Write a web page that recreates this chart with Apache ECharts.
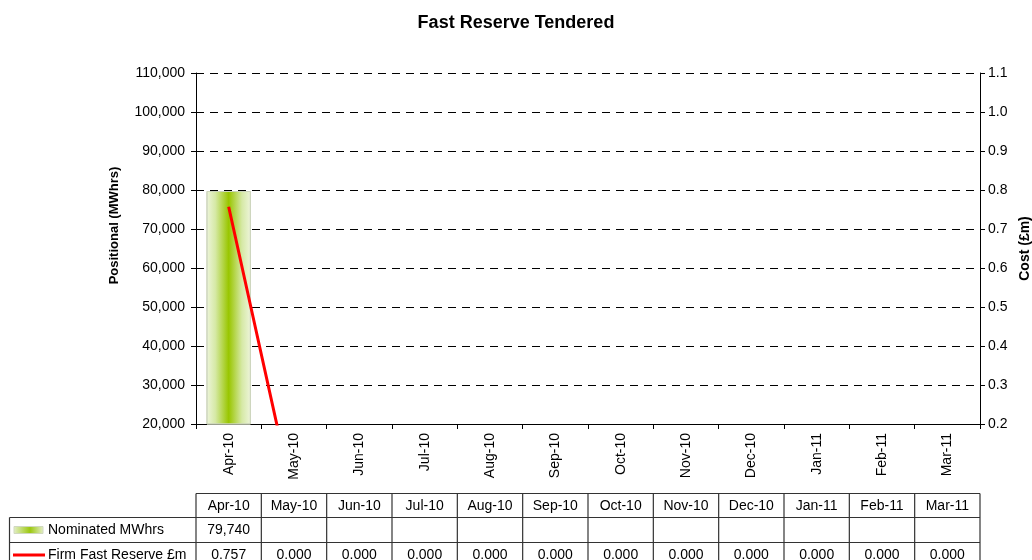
<!DOCTYPE html>
<html>
<head>
<meta charset="utf-8">
<title>Fast Reserve Tendered</title>
<script src="https://cdn.jsdelivr.net/npm/echarts@6/dist/echarts.min.js"></script>
<style>
  html, body { margin: 0; padding: 0; background: #fff; }
  #chart { width: 1032px; height: 560px; }
</style>
</head>
<body>
<div id="chart"></div>
<script>
// chart data
const months = ['Apr-10', 'May-10', 'Jun-10', 'Jul-10', 'Aug-10', 'Sep-10', 'Oct-10', 'Nov-10', 'Dec-10', 'Jan-11', 'Feb-11', 'Mar-11'];
const nominatedMWhrs = [79740, null, null, null, null, null, null, null, null, null, null, null];
const firmFastReserve = [0.757, 0, 0, 0, 0, 0, 0, 0, 0, 0, 0, 0];
const seriesNames = ['Nominated MWhrs', 'Firm Fast Reserve £m'];

const FONT = 'Arial, "Liberation Sans", sans-serif';
const myChart = echarts.init(document.getElementById('chart'));

const barFill = new echarts.graphic.LinearGradient(0, 0, 1, 0, [
    { offset: 0, color: '#eef5dc' },
    { offset: 0.2, color: '#d6e9a6' },
    { offset: 0.5, color: '#99c600' },
    { offset: 0.8, color: '#d6e9a6' },
    { offset: 1, color: '#eef5dc' }
]);

function option() {
    return {
        animation: false,
        backgroundColor: '#fff',
        textStyle: { fontFamily: FONT },
        title: {
            text: 'Fast Reserve Tendered',
            left: 'center',
            top: 9,
            textStyle: { fontSize: 18, fontWeight: 'bold', color: '#000', fontFamily: FONT }
        },
        grid: { left: 196, right: 52, top: 73, bottom: 136, containLabel: false, outerBoundsMode: 'none' },
        xAxis: {
            type: 'category',
            data: months,
            boundaryGap: true,
            axisLine: { lineStyle: { color: '#000', width: 1 } },
            axisTick: { show: true, length: 5, lineStyle: { color: '#000' } },
            axisLabel: { rotate: 90, color: '#000', fontSize: 14, margin: 9, fontFamily: FONT },
            splitLine: { show: false }
        },
        yAxis: [{
            type: 'value',
            name: 'Positional (MWhrs)',
            nameLocation: 'middle',
            nameGap: 75,
            nameRotate: 90,
            nameTextStyle: { fontWeight: 'bold', fontSize: 13, color: '#000', fontFamily: FONT, padding: [0, 0, 0, 46] },
            min: 20000,
            max: 110000,
            interval: 10000,
            axisLine: { show: true, lineStyle: { color: '#000' } },
            axisTick: { show: true, length: 5, lineStyle: { color: '#000' } },
            axisLabel: {
                color: '#000', fontSize: 14, margin: 11, fontFamily: FONT,
                formatter: v => v.toLocaleString('en-US')
            },
            splitLine: { show: true, lineStyle: { color: '#000', type: [8, 6], width: 1 } }
        }, {
            type: 'value',
            name: 'Cost (£m)',
            nameLocation: 'middle',
            nameGap: 36,
            nameRotate: 90,
            nameTextStyle: { fontWeight: 'bold', fontSize: 14, color: '#000', fontFamily: FONT },
            min: 0.2,
            max: 1.1,
            interval: 0.1,
            position: 'right',
            axisLine: { show: true, lineStyle: { color: '#000' } },
            axisTick: { show: true, length: 5, lineStyle: { color: '#000' } },
            axisLabel: {
                color: '#000', fontSize: 14, margin: 8, fontFamily: FONT,
                formatter: v => v.toFixed(1)
            },
            splitLine: { show: false }
        }],
        series: [{
            name: seriesNames[0],
            type: 'bar',
            yAxisIndex: 0,
            data: nominatedMWhrs,
            barWidth: '68%',
            itemStyle: { color: barFill, borderColor: '#cdd5bd', borderWidth: 1 }
        }, {
            name: seriesNames[1],
            type: 'line',
            yAxisIndex: 1,
            data: firmFastReserve,
            symbol: 'none',
            clip: true,
            lineStyle: { color: '#ff0000', width: 3 },
            z: 5
        }]
    };
}

myChart.setOption(option());

// data table below the chart, columns aligned with the category axis
function drawTable() {
    const c0 = myChart.convertToPixel({ xAxisIndex: 0 }, 0);
    const c1 = myChart.convertToPixel({ xAxisIndex: 0 }, 1);
    const band = c1 - c0;
    const left = c0 - band / 2;
    const right = left + band * months.length;
    const labelLeft = 9.5;
    const rowTop = [493.5, 517.5, 542.5];
    const rowH = 24.5;
    const bottom = rowTop[2] + rowH;
    const lineCol = '#333';
    const els = [];
    const txt = (x, y, s, align) => ({
        type: 'text', x: x, y: y,
        style: { text: s, fill: '#000', font: '14px ' + FONT, align: align || 'center', verticalAlign: 'middle' }
    });
    const seg = (x1, y1, x2, y2) => ({
        type: 'line', shape: { x1: x1, y1: y1, x2: x2, y2: y2 },
        style: { stroke: lineCol, lineWidth: 1.2 }
    });
    // horizontal lines
    els.push(seg(left, rowTop[0], right, rowTop[0]));
    els.push(seg(labelLeft, rowTop[1], right, rowTop[1]));
    els.push(seg(labelLeft, rowTop[2], right, rowTop[2]));
    els.push(seg(labelLeft, bottom, right, bottom));
    // vertical lines
    els.push(seg(labelLeft, rowTop[1], labelLeft, bottom));
    for (let i = 0; i <= months.length; i++) {
        els.push(seg(left + band * i, rowTop[0], left + band * i, bottom));
    }
    months.forEach((m, i) => {
        const cx = left + band * (i + 0.5);
        els.push(txt(cx, rowTop[0] + rowH / 2 + 0.5, m));
        if (nominatedMWhrs[i] != null) {
            els.push(txt(cx, rowTop[1] + rowH / 2 + 0.5, nominatedMWhrs[i].toLocaleString('en-US')));
        }
        if (firmFastReserve[i] != null) {
            els.push(txt(cx, rowTop[2] + rowH / 2 + 0.5, firmFastReserve[i].toFixed(3)));
        }
    });
    // legend keys
    els.push({
        type: 'rect', shape: { x: 14, y: rowTop[1] + 9, width: 29, height: 7 },
        style: {
            fill: new echarts.graphic.LinearGradient(0, 0, 1, 0, [
                { offset: 0, color: '#e4efc8' },
                { offset: 0.55, color: '#9cc810' },
                { offset: 1, color: '#e4efc8' }
            ]),
            stroke: '#d0d8c0', lineWidth: 1
        }
    });
    els.push(txt(48, rowTop[1] + rowH / 2 + 0.5, seriesNames[0], 'left'));
    els.push({
        type: 'line', shape: { x1: 13, y1: rowTop[2] + 12.5, x2: 45, y2: rowTop[2] + 12.5 },
        style: { stroke: '#ff0000', lineWidth: 3 }
    });
    els.push(txt(48, rowTop[2] + rowH / 2 + 0.5, seriesNames[1], 'left'));
    myChart.setOption({ graphic: els });
}
drawTable();
</script>
</body>
</html>
